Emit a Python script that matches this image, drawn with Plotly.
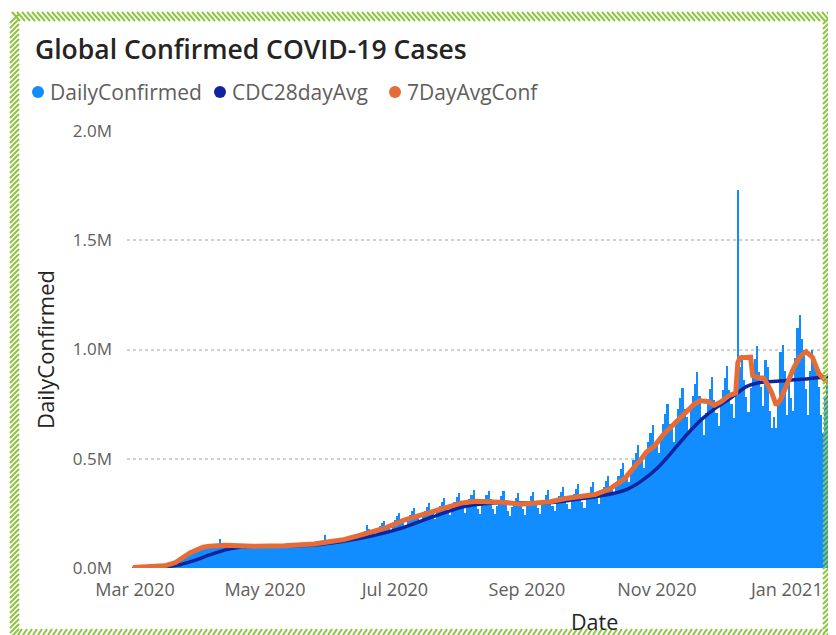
import plotly.graph_objects as go
import pandas as pd

# ---------------- data (thousands of cases) ----------------
start_date = "2020-02-29"
daily_k = [
    2,
    2, 2, 2, 3, 3, 4, 4,
    4, 4, 5, 7, 8, 10, 11,
    13, 15, 18, 21, 28, 32, 33,
    42, 48, 56, 64, 72, 80, 84,
    86, 84, 92, 98, 100, 104, 102,
    97, 91, 98, 103, 106, 135, 104,
    96, 90, 97, 102, 105, 107, 103,
    95, 89, 98, 103, 104, 108, 102,
    97, 91, 98, 103, 106, 108, 104,
    98, 92, 99, 104, 107, 109, 105,
    100, 94, 101, 106, 109, 111, 107,
    104, 97, 105, 110, 113, 116, 111,
    110, 104, 112, 117, 121, 150, 118,
    120, 112, 121, 128, 131, 134, 129,
    128, 119, 130, 140, 148, 152, 140,
    150, 138, 155, 168, 198, 180, 166,
    167, 152, 176, 191, 204, 216, 191,
    194, 176, 204, 221, 237, 252, 221,
    212, 193, 223, 242, 259, 275, 242,
    230, 209, 242, 263, 281, 298, 263,
    248, 226, 261, 283, 303, 322, 283,
    266, 242, 280, 304, 325, 345, 304,
    275, 250, 290, 314, 336, 357, 314,
    270, 248, 292, 316, 334, 352, 318,
    270, 246, 285, 309, 330, 351, 309,
    263, 239, 277, 301, 321, 342, 301,
    268, 244, 283, 307, 328, 349, 307,
    273, 248, 288, 312, 333, 355, 312,
    286, 261, 302, 328, 350, 372, 328,
    295, 269, 312, 338, 361, 384, 338,
    302, 275, 318, 345, 369, 392, 345,
    324, 295, 342, 371, 396, 421, 371,
    369, 336, 390, 422, 451, 480, 422,
    432, 394, 456, 494, 528, 562, 494,
    504, 459, 532, 577, 616, 655, 577,
    576, 525, 608, 659, 704, 749, 659,
    635, 578, 670, 726, 776, 825, 726,
    689, 627, 727, 788, 842, 895, 788,
    671, 611, 708, 767, 820, 872, 767,
    711, 648, 751, 814, 869, 924, 814,
    752, 685, 793, 1730, 919, 977, 860,
    783, 713, 826, 896, 957, 1018, 896,
    830, 740, 950, 920, 720, 640, 690,
    640, 740, 990, 1020, 900, 700, 870,
    780, 720, 960, 1100, 1160, 1050, 1000,
    820, 700, 900, 1000, 950, 900, 830,
    700, 620, 780, 880, 900, 880, 780,
    720,
]

avg7_dates = [
    "2020-02-29", "2020-03-08", "2020-03-15", "2020-03-20", "2020-03-27", "2020-04-02",
    "2020-04-05", "2020-04-12", "2020-04-26", "2020-05-10", "2020-05-17", "2020-05-24",
    "2020-05-31", "2020-06-07", "2020-06-14", "2020-06-20", "2020-06-27", "2020-07-05",
    "2020-07-12", "2020-07-19", "2020-07-26", "2020-08-01", "2020-08-08", "2020-08-15",
    "2020-08-22", "2020-08-29", "2020-09-05", "2020-09-12", "2020-09-19", "2020-09-26",
    "2020-10-03", "2020-10-10", "2020-10-17", "2020-10-22", "2020-10-24", "2020-10-27",
    "2020-10-31", "2020-11-04", "2020-11-07", "2020-11-11", "2020-11-14", "2020-11-18",
    "2020-11-21", "2020-11-25", "2020-11-28", "2020-12-01", "2020-12-05", "2020-12-08",
    "2020-12-09", "2020-12-10", "2020-12-15", "2020-12-16", "2020-12-19", "2020-12-21",
    "2020-12-23", "2020-12-25", "2020-12-27", "2020-12-29", "2021-01-01", "2021-01-04",
    "2021-01-07", "2021-01-10", "2021-01-13", "2021-01-16", "2021-01-19", "2021-01-24",
]
avg7_k = [
    2, 4, 10, 25, 70, 95,
    100, 104, 100, 102, 105, 110,
    120, 130, 148, 165, 185, 218,
    237, 257, 278, 297, 305, 305,
    300, 292, 298, 303, 318, 328,
    336, 362, 410, 470, 490, 530,
    560, 610, 640, 680, 705, 745,
    765, 762, 745, 760, 790, 800,
    940, 962, 965, 880, 870, 870,
    840, 800, 745, 770, 840, 910,
    965, 990, 965, 890, 860, 830,
]

avg28_dates = [
    "2020-02-29", "2020-03-15", "2020-03-22", "2020-03-29", "2020-04-05", "2020-04-12",
    "2020-04-19", "2020-04-26", "2020-05-10", "2020-05-24", "2020-06-07", "2020-06-21",
    "2020-07-05", "2020-07-19", "2020-08-02", "2020-08-16", "2020-08-30", "2020-09-13",
    "2020-09-27", "2020-10-11", "2020-10-18", "2020-10-25", "2020-11-01", "2020-11-08",
    "2020-11-15", "2020-11-22", "2020-11-29", "2020-12-06", "2020-12-13", "2020-12-20",
    "2020-12-27", "2021-01-03", "2021-01-10", "2021-01-17", "2021-01-24",
]
avg28_k = [
    2, 6, 15, 35, 60, 82,
    95, 100, 101, 105, 122, 148,
    185, 235, 280, 298, 297, 300,
    318, 340, 360, 400, 455, 530,
    610, 680, 735, 780, 830, 850,
    855, 860, 865, 872, 875,
]

y_tickvals = [0, 500, 1000, 1500, 2000]
y_ticktext = ["0.0M", "0.5M", "1.0M", "1.5M", "2.0M"]
x_tickvals = ["2020-03-01", "2020-05-01", "2020-07-01", "2020-09-01", "2020-11-01", "2021-01-01"]
x_ticktext = ["Mar 2020", "May 2020", "Jul 2020", "Sep 2020", "Nov 2020", "Jan 2021"]
series_names = ["DailyConfirmed", "CDC28dayAvg", "7DayAvgConf"]

# ---------------- style ----------------
BLUE, NAVY, ORANGE = "#118DFF", "#12239E", "#E66C37"
GREEN = "#8DC63F"
FONT = "Open Sans"
OFF = 8                      # page body margin of the browser
W, H = 836 - OFF, 635 - OFF  # visible figure size


def px(x):
    """screen pixel x -> paper fraction"""
    return (x - OFF) / W


def py(y):
    """screen pixel y -> paper fraction"""
    return 1 - (y - OFF) / H


dates = pd.date_range(start_date, periods=len(daily_k), freq="D")

fig = go.Figure()
fig.add_trace(go.Bar(
    x=dates, y=daily_k, width=86400000, name=series_names[0],
    marker=dict(color=BLUE, line=dict(width=0)),
))
fig.add_trace(go.Scatter(
    x=pd.to_datetime(avg28_dates), y=avg28_k, mode="lines", name=series_names[1],
    line=dict(color=NAVY, width=3.5, shape="spline", smoothing=0.6),
))
fig.add_trace(go.Scatter(
    x=pd.to_datetime(avg7_dates), y=avg7_k, mode="lines", name=series_names[2],
    line=dict(color=ORANGE, width=5),
))

# hatched green frame (decoration)
segs = []
for x in range(12, 846, 5):
    segs.append(f"M{px(x):.5f},{py(12):.5f}L{px(x + 8):.5f},{py(21):.5f}")
for y in range(14, 645, 5):
    segs.append(f"M{px(10):.5f},{py(y + 9):.5f}L{px(19):.5f},{py(y):.5f}")
for y in range(14, 645, 5):
    segs.append(f"M{px(823):.5f},{py(y + 10):.5f}L{px(833):.5f},{py(y):.5f}")
for x in range(18, 826, 5):
    segs.append(f"M{px(x):.5f},{py(635):.5f}L{px(x + 4):.5f},{py(629):.5f}")

shapes = [dict(type="path", xref="paper", yref="paper", path="".join(segs),
               line=dict(color=GREEN, width=2))]

legend_items = [(38, 48, BLUE), (220, 230, NAVY), (395, 405, ORANGE)]
annotations = []
for (cx, tx, col), name in zip(legend_items, series_names):
    shapes.append(dict(type="circle", xref="paper", yref="paper",
                       x0=px(cx - 6), x1=px(cx + 6), y0=py(92 + 6), y1=py(92 - 6),
                       fillcolor=col, line=dict(width=0)))
    annotations.append(dict(text=name, x=px(tx), y=py(92), xref="paper", yref="paper",
                            xanchor="left", yanchor="middle", showarrow=False,
                            font=dict(family=FONT, size=21, color="#605E5C")))

annotations.append(dict(text="Global Confirmed COVID-19 Cases", x=px(33), y=py(49),
                        xref="paper", yref="paper", xanchor="left", yanchor="middle",
                        showarrow=False,
                        font=dict(family=FONT, size=26.5, color="#252423", weight=600)))
annotations.append(dict(text="DailyConfirmed", x=px(45), y=py(350), xref="paper", yref="paper",
                        xanchor="center", yanchor="middle", textangle=-90, showarrow=False,
                        font=dict(family=FONT, size=22, color="#252423")))
annotations.append(dict(text="Date", x=px(594), y=py(621), xref="paper", yref="paper",
                        xanchor="center", yanchor="middle", showarrow=False,
                        font=dict(family=FONT, size=21.5, color="#252423")))

fig.update_layout(
    width=W, height=H,
    margin=dict(l=0, r=0, t=0, b=0, autoexpand=False),
    paper_bgcolor="white", plot_bgcolor="white",
    showlegend=False, bargap=0,
    shapes=shapes, annotations=annotations,
    xaxis=dict(
        domain=[px(127), 1.0], type="date", automargin=False,
        range=["2020-02-26 06:00", "2021-01-24 02:00"],
        tickvals=x_tickvals, ticktext=x_ticktext,
        showgrid=False, zeroline=False, showline=False, ticks="",
        tickfont=dict(family=FONT, size=18, color="#605E5C"),
        ticklabelstandoff=9,
    ),
    yaxis=dict(
        domain=[py(568), py(131)], range=[0, 2000], automargin=False,
        tickvals=y_tickvals, ticktext=y_ticktext,
        showgrid=True, gridcolor="#D0D0D0", griddash="dot", gridwidth=1.5,
        zeroline=False, showline=False, ticks="",
        tickfont=dict(family=FONT, size=17, color="#605E5C"),
        ticklabelstandoff=14,
    ),
)

fig.write_html("out.html")
